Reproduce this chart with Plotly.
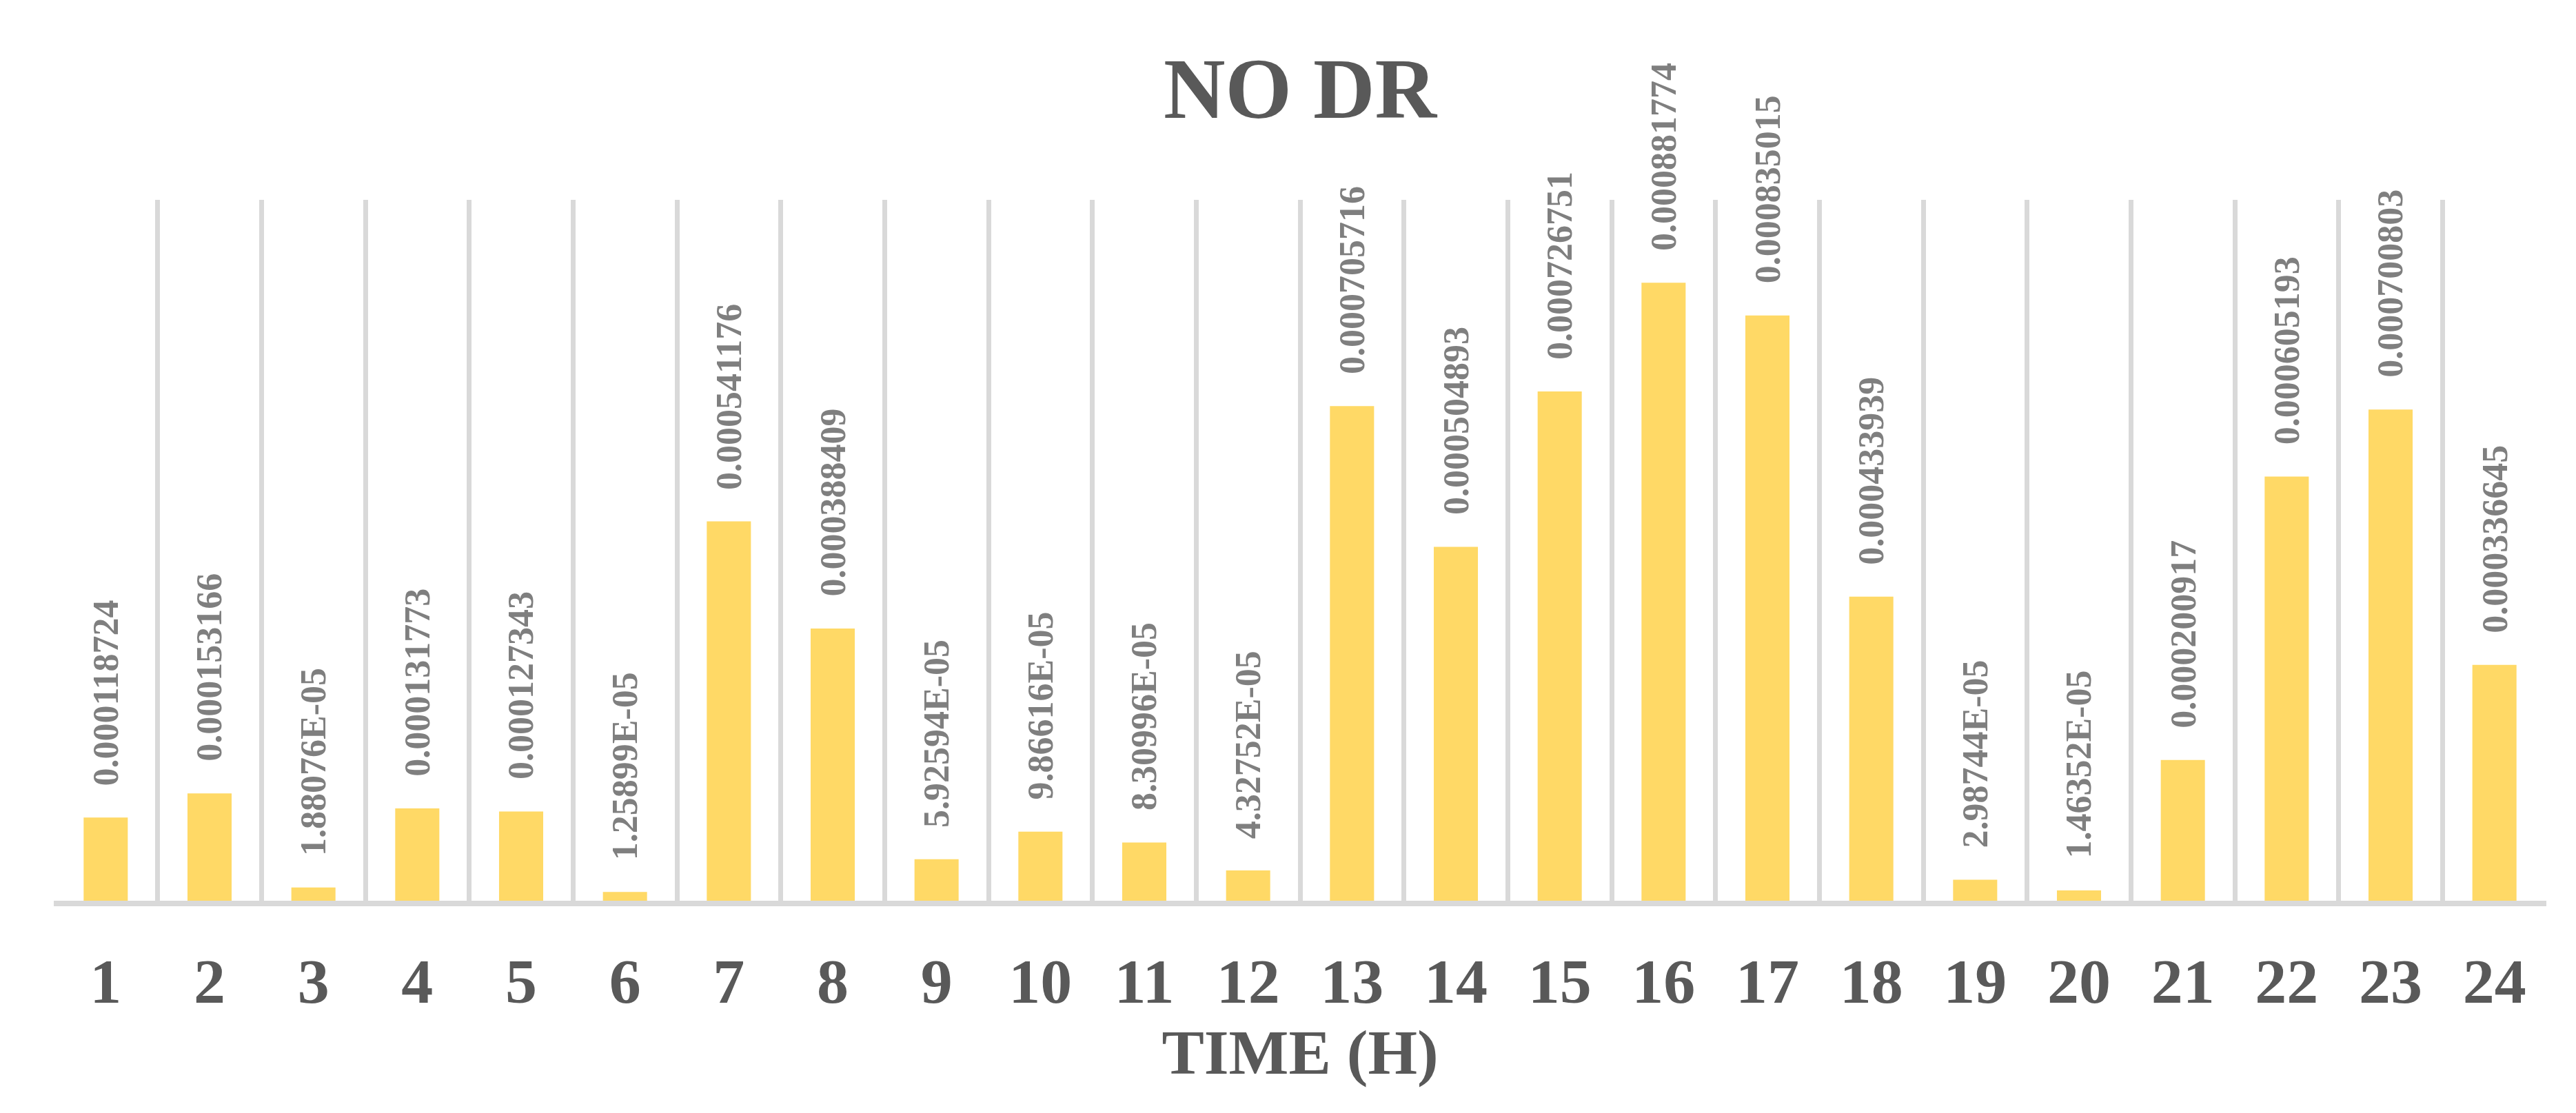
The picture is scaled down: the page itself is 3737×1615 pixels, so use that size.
import plotly.graph_objects as go

hours = [str(h) for h in range(1, 25)]
values = [0.000118724, 0.000153166, 1.88076e-05, 0.000131773, 0.000127343, 1.25899e-05,
          0.000541176, 0.000388409, 5.92594e-05, 9.86616e-05, 8.30996e-05, 4.32752e-05,
          0.000705716, 0.000504893, 0.000726751, 0.000881774, 0.000835015, 0.000433939,
          2.98744e-05, 1.46352e-05, 0.000200917, 0.000605193, 0.000700803, 0.000336645]
labels = ["0.000118724", "0.000153166", "1.88076E-05", "0.000131773", "0.000127343", "1.25899E-05",
          "0.000541176", "0.000388409", "5.92594E-05", "9.86616E-05", "8.30996E-05", "4.32752E-05",
          "0.000705716", "0.000504893", "0.000726751", "0.000881774", "0.000835015", "0.000433939",
          "2.98744E-05", "1.46352E-05", "0.000200917", "0.000605193", "0.000700803", "0.000336645"]

FONT = "Liberation Serif"
W, H = 3737, 1615

fig = go.Figure()
fig.add_trace(go.Bar(
    x=hours, y=values,
    marker=dict(color="#FFD966", line=dict(width=0)),
    hoverinfo="skip",
))

# data labels: category axis -> position annotations by category index
for i, (v, t) in enumerate(zip(values, labels)):
    fig.add_annotation(
        x=i, y=v, text=t, textangle=-90, showarrow=False,
        xref="x", yref="y", yanchor="bottom", xanchor="center", yshift=44,
        font=dict(family=FONT, size=52, color="#7F7F7F", weight="bold"),
    )

fig.update_layout(
    width=W, height=H,
    paper_bgcolor="white", plot_bgcolor="white",
    margin=dict(l=70, r=51, t=282, b=316),
    bargap=0.575,
    showlegend=False,
    title=dict(text="<b>NO DR</b>", x=0.5, xanchor="center", y=1 - 120 / H, yanchor="middle",
               xref="paper", yref="container",
               font=dict(family=FONT, size=124, color="#595959")),
    xaxis=dict(
        type="category", tickson="boundaries", ticks="",
        showgrid=True, gridcolor="#D9D9D9", gridwidth=7,
        showline=True, linecolor="#D9D9D9", linewidth=8,
        tickfont=dict(family=FONT, size=92, color="#595959", weight="bold"),
        ticklabelstandoff=30,
        title=dict(text="<b>TIME (H)</b>", standoff=22,
                   font=dict(family=FONT, size=92, color="#595959")),
        range=[-0.5, 23.5],
    ),
    yaxis=dict(range=[0, 0.001], showgrid=False, zeroline=False, showline=False,
               showticklabels=False, ticks=""),
)

fig.write_html("out.html")
